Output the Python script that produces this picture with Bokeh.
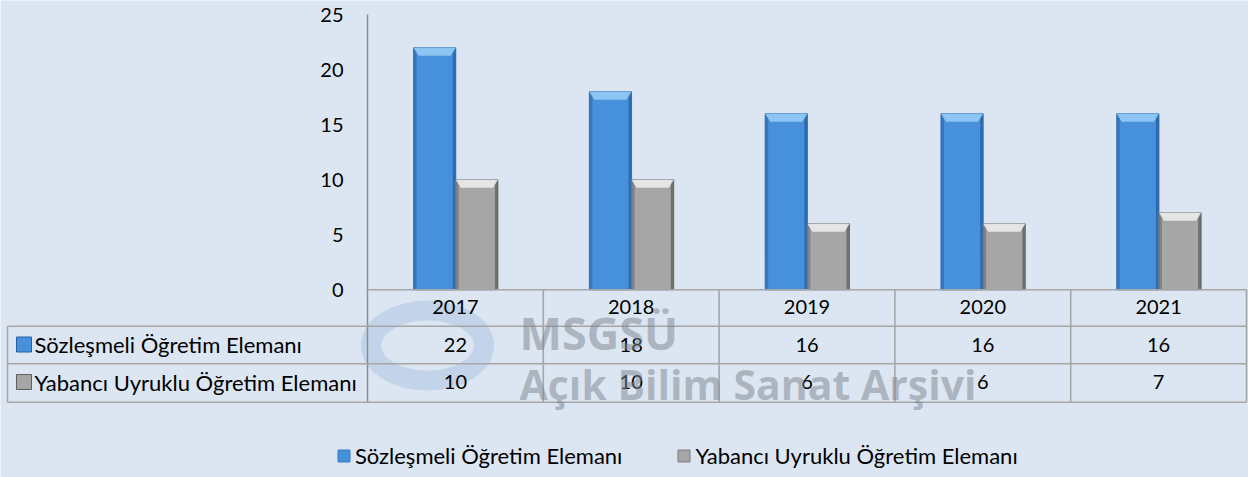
from bokeh.plotting import figure
from bokeh.models import Legend, LegendItem, Range1d
from bokeh.core.properties import value
from bokeh.embed import file_html
from bokeh.resources import INLINE

# ---------------- data ----------------
years = ["2017", "2018", "2019", "2020", "2021"]
sozlesmeli = [22, 18, 16, 16, 16]
yabanci = [10, 10, 6, 6, 7]
series_names = ["Sözleşmeli Öğretim Elemanı", "Yabancı Uyruklu Öğretim Elemanı"]
y_ticks = [0, 5, 10, 15, 20, 25]
watermark_lines = ["MSGSÜ", "Açık Bilim Sanat Arşivi"]

# ---------------- layout constants ----------------
W, H = 1248, 477
AX = 367.0      # px of the value axis (x = 0)
COL = 175.8     # px per category
PXY = 11.0      # px per value unit
Y0 = 289.3      # px (from top) of value 0

def xd(px):
    return (px - AX) / COL

def yd(py):
    return (Y0 - py) / PXY

BG = "#dce6f2"
FONT = value("Lato")
GRID = "#a6a6a6"

p = figure(width=W, height=H, output_backend="svg", toolbar_location=None,
           x_range=Range1d(xd(0), xd(W)), y_range=Range1d(yd(H), yd(0)),
           x_axis_location=None, y_axis_location=None, title=None,
           min_border=0, background_fill_color=BG, border_fill_color=BG,
           outline_line_color=None)
p.grid.visible = False

n = len(years)
idx = list(range(n))

# ---------------- watermark (behind) ----------------
p.ellipse(x=[xd(427)], y=[yd(345)], width=[113 / COL], height=[70 / PXY],
          fill_color=None, line_color="#6f96cc", line_width=20, line_alpha=0.22)

# ---------------- bars ----------------
BW = 0.24
off_a, off_b = 0.382, 0.622
edge = 3 / COL
bev_h = 8 / PXY
bev_in = 5 / COL

def draw_bars(vals, off, main, dark, light, outline):
    xs = [i + off for i in idx]
    r = p.vbar(x=xs, top=vals, bottom=0, width=BW, fill_color=main,
               line_color=outline, line_width=1)
    p.vbar(x=[x - BW / 2 + edge / 2 for x in xs], top=vals, bottom=0, width=edge,
           fill_color=dark, fill_alpha=0.5, line_color=None)
    p.vbar(x=[x + BW / 2 - edge / 2 for x in xs], top=vals, bottom=0, width=edge,
           fill_color=dark, fill_alpha=0.75, line_color=None)
    pxs = [[x - BW / 2, x + BW / 2, x + BW / 2 - bev_in, x - BW / 2 + bev_in] for x in xs]
    pys = [[v, v, v - bev_h, v - bev_h] for v in vals]
    p.patches(xs=pxs, ys=pys, fill_color=light, fill_alpha=0.9, line_color=None)
    return r

r_a = draw_bars(sozlesmeli, off_a, "#4790dc", "#24609f", "#93cbf3", "#3b78bf")
r_b = draw_bars(yabanci, off_b, "#a6a6a6", "#5e5e5e", "#ececec", "#7a7a7a")

# ---------------- value axis ----------------
p.segment(x0=[0], y0=[yd(14)], x1=[0], y1=[yd(401.7)], line_color="#8c8c8c", line_width=1.5)
p.text(x=[xd(343)] * len(y_ticks), y=y_ticks, text=[str(t) for t in y_ticks],
       text_font=FONT, text_font_size="20px", text_align="right",
       text_baseline="middle", text_color="#000000")

# ---------------- data table ----------------
row_lines = [289.3, 325.7, 363.3, 401.7]
x_left = xd(7)
p.segment(x0=[0] + [x_left] * 3, y0=[yd(v) for v in row_lines],
          x1=[n] * 4, y1=[yd(v) for v in row_lines], line_color=GRID, line_width=1.6)
p.segment(x0=list(range(1, n + 1)), y0=[0] * n, x1=list(range(1, n + 1)),
          y1=[yd(row_lines[-1])] * n, line_color=GRID, line_width=1.6)
p.segment(x0=[x_left], y0=[yd(row_lines[1])], x1=[x_left], y1=[yd(row_lines[-1])],
          line_color=GRID, line_width=1.6)

cx = [i + 0.5 for i in idx]
p.text(x=cx, y=[yd(306.5)] * n, text=years, text_font=FONT, text_font_size="20px",
       text_align="center", text_baseline="middle", text_color="#000000")
p.text(x=cx, y=[yd(344)] * n, text=[str(v) for v in sozlesmeli], text_font=FONT,
       text_font_size="20px", text_align="center", text_baseline="middle", text_color="#000000")
p.text(x=cx, y=[yd(381.5)] * n, text=[str(v) for v in yabanci], text_font=FONT,
       text_font_size="20px", text_align="center", text_baseline="middle", text_color="#000000")

p.scatter(x=[xd(23.5)] * 2, y=[yd(344), yd(381.5)], marker="square", size=15,
          fill_color=["#4790dc", "#a6a6a6"], line_color=["#24609f", "#5e5e5e"])
p.text(x=[xd(34)] * 2, y=[yd(344), yd(381.5)], text=series_names, text_font=FONT,
       text_font_size="22px", text_align="left", text_baseline="middle", text_color="#000000")

# ---------------- watermark text ----------------
p.text(x=[xd(519)], y=[yd(332)], text=watermark_lines[:1],
       text_font=value("Open Sans"), text_font_style="bold", text_font_size="45px",
       text_align="left", text_baseline="alphabetic", text_color="#7d858c", text_alpha=0.5)
p.text(x=[xd(519)], y=[yd(383)], text=watermark_lines[1:],
       text_font=value("Open Sans"), text_font_style="bold", text_font_size="41px",
       text_align="left", text_baseline="alphabetic", text_color="#7d858c", text_alpha=0.5)

# ---------------- legend ----------------
legend = Legend(items=[LegendItem(label=series_names[0], renderers=[r_a]),
                       LegendItem(label=series_names[1], renderers=[r_b])],
                orientation="horizontal", location=(336, 8),
                glyph_width=15, glyph_height=15, label_standoff=4, spacing=54,
                padding=0, margin=0, border_line_color=None, background_fill_alpha=0,
                label_text_font="Lato", label_text_font_size="22px", label_height=22,
                label_text_color="#000000")
p.add_layout(legend, "center")

open("out.html", "w").write(file_html(p, INLINE))
